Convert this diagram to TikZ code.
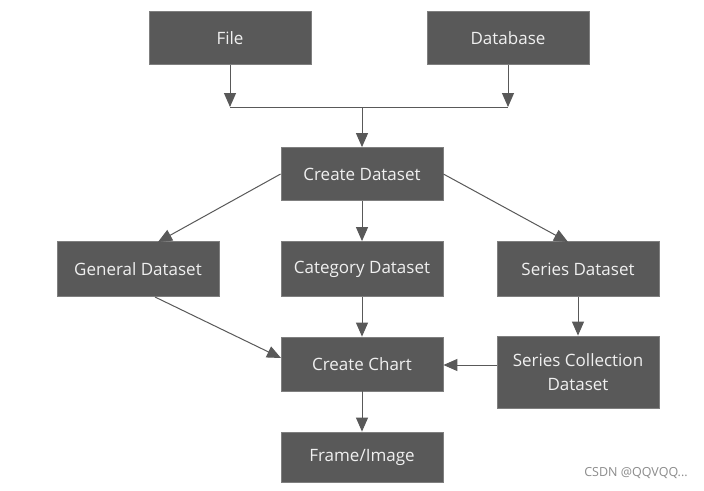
\documentclass[tikz,border=0pt]{standalone}
\usepackage{fontspec}
\setmainfont{Open Sans}
\usetikzlibrary{arrows.meta}
\definecolor{boxfill}{HTML}{595959}
\definecolor{boxline}{HTML}{7F7F7F}
\definecolor{linecol}{HTML}{595959}
\tikzset{
  box/.style={draw=boxline, line width=0.8pt, fill=boxfill, text=white!94!black,
    minimum width=162pt, minimum height=53pt, inner sep=2pt, align=center,
    font=\fontsize{17}{24}\selectfont},
  conn/.style={draw=linecol, line width=1pt, -{Triangle[length=14pt,width=12pt]}},
  plain/.style={draw=linecol, line width=1pt}
}
\begin{document}
\begin{tikzpicture}[x=1pt,y=-1pt]
\useasboundingbox (0,0) rectangle (704,490);
\fill[white] (0,0) rectangle (704,490);
\node[box] (file) at (230,38) {File};
\node[box] (db) at (508,38) {Database};
\node[box] (cd) at (362,174) {Create Dataset};
\node[box, minimum height=55pt] (gen) at (138,269) {General Dataset};
\node[box, minimum height=55pt] (cat) at (362,269) {Category Dataset};
\node[box, minimum height=55pt] (ser) at (578,269) {Series Dataset};
\node[box, minimum height=54pt] (cc) at (362,364) {Create Chart};
\node[box, minimum height=72pt] (scd) at (578,372) {Series Collection\\Dataset};
\node[box, minimum height=50pt] (fi) at (362,457) {Frame/Image};
\coordinate (j1) at (230,107);
\coordinate (j2) at (508,107);
\coordinate (jm) at (362,107);
\coordinate (gtop) at (158,242);
\coordinate (stop) at (568,242);
\coordinate (gbot) at (155,297);
\coordinate (ccl) at (281,358);
\draw[conn] (file.south) -- (j1);
\draw[conn] (db.south) -- (j2);
\draw[plain] (j1) -- (j2);
\draw[conn] (jm) -- (cd.north);
\draw[conn] (cd.west) -- (gtop);
\draw[conn] (cd.south) -- (cat.north);
\draw[conn] (cd.east) -- (stop);
\draw[conn] (gbot) -- (ccl);
\draw[conn] (cat.south) -- (cc.north);
\draw[conn] (ser.south) -- (scd.north);
\draw[conn] (scd.west |- 0,365) -- (cc.east |- 0,365);
\draw[conn] (cc.south) -- (fi.north);
\node[text=black!45, font=\fontsize{12.5}{14}\selectfont, anchor=center] (wm) at (636,473) {CSDN @QQVQQ...};
\end{tikzpicture}
\end{document}
